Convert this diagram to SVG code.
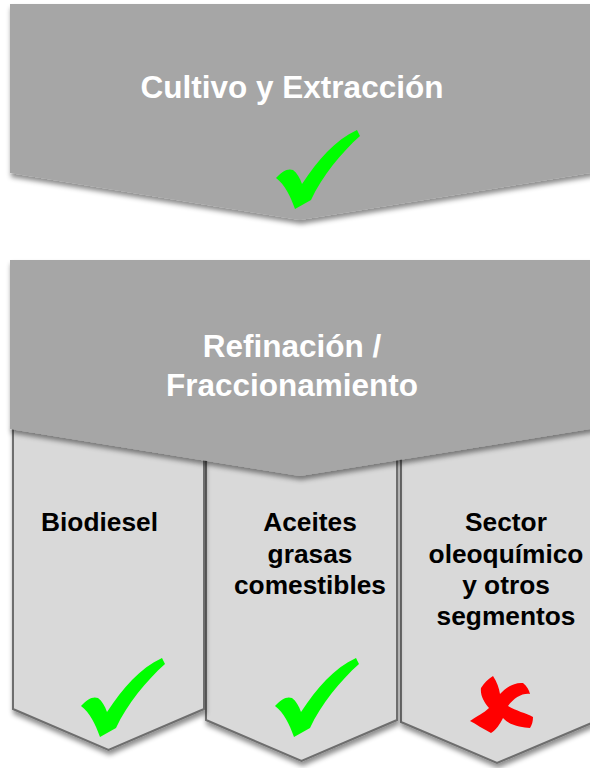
<svg xmlns="http://www.w3.org/2000/svg" xmlns:xlink="http://www.w3.org/1999/xlink" width="590" height="768" viewBox="0 0 590 768">
<style>
.chev{fill:#a6a6a6;filter:url(#sh);}
.box{fill:#d9d9d9;stroke:#6e6e6e;stroke-width:2;filter:url(#sh);}
.title{font-family:"Liberation Sans",Arial,sans-serif;font-weight:bold;font-size:31.5px;fill:#ffffff;text-anchor:middle;}
.lbl{font-family:"Liberation Sans",Arial,sans-serif;font-weight:bold;font-size:26.3px;fill:#000000;text-anchor:middle;}
.ok{fill:#00ff00;}
.no{fill:#ff0000;}
</style>
<defs>
<filter id="sh" x="-10%" y="-10%" width="120%" height="130%">
<feDropShadow dx="1" dy="4" stdDeviation="2.5" flood-color="#000" flood-opacity="0.45"/>
</filter>
<path id="check" d="M276,178 C282,171 288,168 293,170 C297,173 300,178 302,184 C318,160 335,140 357,130 L360,136 C342,152 322,176 311,200 L295,209 C290,195 285,185 276,178 Z"/>
</defs>
<rect width="590" height="768" fill="#ffffff"/>
<g id="connectors"></g>
<g id="box3">
<polygon class="box" points="401,425 594,425 594,722 497,763 401,722"/>
<text class="lbl" x="506" y="531">Sector</text>
<text class="lbl" x="506" y="563">oleoquímico</text>
<text class="lbl" x="506" y="594">y otros</text>
<text class="lbl" x="506" y="625">segmentos</text>
<path class="no" d="M493,676 C497,682 499,688 500,694 C505,688 514,682 523,683 C527,686 529,690 530,694 C522,693 514,698 508,706 C516,711 526,713 533,717 C533,721 532,725 530,728 C522,727 510,726 503,718 C500,724 496,730 491,733 C483,729 476,724 470,721 C477,716 484,713 489,708 C484,702 480,695 481,688 C484,683 488,679 493,676 Z"/>
</g>
<g id="box2">
<polygon class="box" points="206,425 397,425 397,720 301.5,761 206,720"/>
<text class="lbl" x="310" y="531">Aceites</text>
<text class="lbl" x="310" y="563">grasas</text>
<text class="lbl" x="310" y="594">comestibles</text>
<use xlink:href="#check" href="#check" class="ok" transform="translate(-1,528)"/>
</g>
<g id="box1">
<polygon class="box" points="13,425 204,425 204,709 108.5,750 13,709"/>
<text class="lbl" x="99.5" y="531">Biodiesel</text>
<use xlink:href="#check" href="#check" class="ok" transform="translate(-195,528)"/>
</g>
<g id="refinacion">
<polygon class="chev" points="10,260 594,260 594,428 590,429 300,476 10,429"/>
<text class="title" x="292" y="357">Refinación /</text>
<text class="title" x="292" y="396">Fraccionamiento</text>
</g>
<g id="cultivo">
<polygon class="chev" points="10,4 594,4 594,172 590,173 300,220 10,173"/>
<text class="title" x="292" y="98">Cultivo y Extracción</text>
<use xlink:href="#check" href="#check" class="ok"/>
</g>
</svg>
